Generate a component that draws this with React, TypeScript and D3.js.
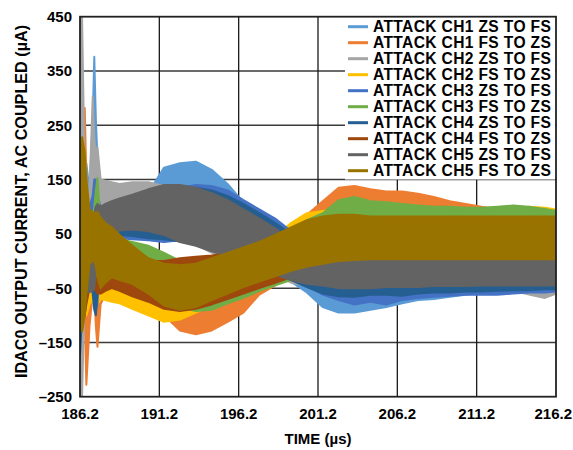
import React from "react";
import * as d3 from "d3";

// ---------- data ----------
const times = [186.2, 186.33, 186.5, 186.6, 186.8, 187.0, 187.1, 187.2, 187.3, 187.5, 187.8, 188.2, 188.7, 189.5, 190.5, 191.5, 192.5, 193.5, 194.5, 195.5, 196.5, 197.5, 198.5, 199.5, 200.5, 201.5, 202.5, 203.5, 204.5, 205.5, 206.5, 207.5, 208.5, 209.5, 210.5, 211.5, 212.5, 213.5, 214.5, 215.5, 216.2];

const xTicks = [186.2, 191.2, 196.2, 201.2, 206.2, 211.2, 216.2];
const yTicks = [450, 350, 250, 150, 50, -50, -150, -250];

const seriesNames = [
  "ATTACK CH1 ZS TO FS",
  "ATTACK CH1 FS TO ZS",
  "ATTACK CH2 ZS TO FS",
  "ATTACK CH2 FS TO ZS",
  "ATTACK CH3 ZS TO FS",
  "ATTACK CH3 FS TO ZS",
  "ATTACK CH4 ZS TO FS",
  "ATTACK CH4 FS TO ZS",
  "ATTACK CH5 ZS TO FS",
  "ATTACK CH5 FS TO ZS",
];
const seriesColors = ["#5B9BD5", "#ED7D31", "#A5A5A5", "#FFC000", "#4472C4", "#70AD47", "#255E91", "#9E480E", "#636363", "#997300"];

// envelope of each noisy trace (µA): low / high edge at each time
const ch1ZsLo = [0, -40, -30, 0, 30, 60, 80, 70, 40, 50, 55, 55, 55, 55, 60, 68, 75, 75, 65, 50, 30, 8, -15, -38, -58, -85, -95, -95, -90, -85, -78, -72, -70, -66, -62, -58, -56, -55, -52, -50, -48];
const ch1ZsHi = [60, 120, 150, 180, 130, 260, 376, 260, 190, 110, 100, 100, 100, 105, 125, 172, 180, 183, 168, 142, 108, 85, 60, 35, 15, 10, 5, 0, 0, 0, 0, 0, 0, 0, 0, 0, 0, 0, 0, 0, 0];

const ch1FsLo = [-60, -50, -100, -228, -120, -60, -60, -120, -158, -80, -60, -55, -55, -65, -80, -100, -128, -135, -128, -112, -95, -62, -45, -28, -12, 0, 5, 8, 10, 10, 10, 10, 10, 8, 8, 5, 5, 5, 5, 5, 5];
const ch1FsHi = [100, 100, 282, 150, 60, 50, 50, 30, 20, 30, 30, 20, 15, 5, -5, -15, -20, -18, -10, 0, 10, 25, 40, 60, 85, 110, 135, 138, 132, 128, 128, 124, 118, 110, 105, 100, 96, 94, 92, 90, 88];

const ch2ZsLo = [-250, -250, -50, -40, 0, 40, 50, 60, 70, 80, 80, 75, 72, 68, 62, 55, 45, 30, 15, 10, 5, -5, -25, -40, -45, -50, -55, -55, -55, -55, -55, -55, -55, -55, -55, -55, -55, -55, -62, -68, -60];
const ch2ZsHi = [450, 450, 150, 120, 130, 302, 230, 190, 210, 150, 148, 145, 142, 145, 145, 138, 125, 115, 105, 95, 85, 70, 55, 35, 25, 20, 15, 15, 15, 15, 15, 15, 15, 15, 15, 15, 15, 15, 15, 15, 15];

const ch2FsLo = [-50, -50, -80, -100, -80, -70, -75, -80, -80, -70, -72, -75, -78, -88, -100, -112, -108, -95, -82, -70, -60, -48, -35, -22, -10, -2, 3, 5, 5, 5, 5, 5, 5, 5, 5, 5, 5, 5, 5, 5, 5];
const ch2FsHi = [150, 150, 200, 120, 60, 50, 45, 40, 35, 20, 10, 0, -10, -20, -30, -35, -35, -30, -20, -10, 5, 20, 45, 70, 88, 92, 95, 92, 90, 88, 88, 88, 88, 88, 88, 88, 90, 92, 100, 98, 95];

const ch3ZsLo = [-60, -60, -100, -60, -40, -50, -80, -90, -80, 30, 40, 45, 42, 40, 38, 35, 38, 40, 35, 25, 15, 0, -15, -30, -45, -62, -72, -80, -75, -80, -72, -68, -66, -64, -62, -62, -62, -60, -58, -58, -56];
const ch3ZsHi = [150, 150, 120, 100, 100, 120, 150, 150, 120, 100, 100, 105, 105, 110, 118, 125, 135, 140, 138, 130, 112, 95, 78, 55, 35, 20, 10, 10, 10, 10, 10, 10, 10, 10, 10, 10, 10, 10, 10, 10, 10];

const ch3FsLo = [-60, -60, -80, -60, -50, -40, -40, -40, -40, -40, -35, -38, -40, -45, -60, -75, -85, -92, -90, -78, -68, -55, -45, -35, -22, -12, -5, 0, 0, 0, 0, 0, 0, 0, 0, 0, 0, 0, 0, 0, 0];
const ch3FsHi = [100, 100, 150, 100, 80, 80, 100, 130, 153, 60, 50, 42, 40, 35, 28, 15, 0, -2, 5, 12, 20, 32, 45, 60, 75, 88, 112, 118, 110, 108, 105, 102, 100, 100, 98, 98, 100, 102, 100, 96, 92];

const ch4ZsLo = [-173, -100, -80, -60, -40, -60, -90, -100, -60, 35, 45, 50, 48, 46, 42, 40, 36, 30, 30, 20, 10, -5, -20, -35, -48, -60, -65, -66, -62, -62, -64, -60, -58, -58, -56, -56, -55, -54, -54, -52, -52];
const ch4ZsHi = [100, 100, 80, 60, 60, 70, 80, 100, 100, 100, 100, 105, 105, 110, 115, 125, 130, 135, 130, 120, 105, 88, 70, 50, 30, 20, 15, 15, 15, 15, 15, 15, 15, 15, 15, 15, 15, 15, 15, 15, 15];

const ch4FsLo = [-80, -80, -100, -80, -50, -50, -50, -55, -60, -60, -55, -50, -55, -65, -75, -88, -92, -88, -80, -70, -60, -50, -40, -30, -22, -15, -12, -10, -10, -10, -10, -10, -10, -10, -10, -10, -10, -10, -10, -10, -10];
const ch4FsHi = [80, 80, 150, 100, 70, 70, 70, 70, 70, 60, 50, 40, 30, 15, 0, 0, 5, 8, 10, 15, 25, 35, 45, 55, 65, 75, 80, 80, 80, 80, 80, 80, 80, 80, 80, 80, 80, 80, 80, 80, 80];

const ch5ZsLo = [-100, -60, -60, -57, -57, -55, -50, -20, 20, 38, 45, 52, 56, 58, 55, 48, 35, 28, 18, 10, 5, -8, -25, -35, -42, -45, -50, -50, -50, -48, -48, -48, -46, -46, -46, -45, -45, -45, -45, -45, -45];
const ch5ZsHi = [100, 120, 100, 80, 60, 60, 80, 100, 105, 100, 105, 110, 115, 122, 132, 140, 140, 135, 125, 112, 95, 78, 60, 40, 25, 22, 25, 25, 25, 25, 25, 25, 25, 25, 25, 25, 25, 25, 25, 25, 25];

const ch5FsLo = [-100, -130, -100, -60, -5, 0, 0, -10, -30, -50, -40, -30, -35, -42, -60, -82, -90, -85, -72, -60, -48, -38, -28, -18, -10, -5, 0, 2, 3, 3, 3, 3, 3, 3, 3, 3, 3, 3, 3, 3, 3];
const ch5FsHi = [200, 228, 200, 150, 95, 90, 88, 90, 90, 80, 70, 62, 48, 28, 5, -5, -8, -5, 5, 15, 25, 35, 48, 62, 75, 82, 85, 85, 82, 82, 82, 82, 82, 82, 82, 82, 82, 82, 82, 82, 82];

const seriesLo = [ch1ZsLo, ch1FsLo, ch2ZsLo, ch2FsLo, ch3ZsLo, ch3FsLo, ch4ZsLo, ch4FsLo, ch5ZsLo, ch5FsLo];
const seriesHi = [ch1ZsHi, ch1FsHi, ch2ZsHi, ch2FsHi, ch3ZsHi, ch3FsHi, ch4ZsHi, ch4FsHi, ch5ZsHi, ch5FsHi];

// ---------- layout ----------
const W = 573;
const H = 450;
const PL = 80, PR = 556, PT = 16.7, PB = 396.7;
const FONT = "'Liberation Sans', Arial, sans-serif";

export default function App() {
  const x = d3.scaleLinear().domain([186.2, 216.2]).range([PL, PR]);
  const y = d3.scaleLinear().domain([-250, 450]).range([PB, PT]);

  const makeArea = (lo: number[], hi: number[]) =>
    d3
      .area<number>()
      .x((_, i) => x(times[i]))
      .y0((_, i) => y(lo[i]))
      .y1((_, i) => y(hi[i]))
      .curve(d3.curveLinear)(times);

  const legendX = 345;
  const legendY = 17;
  const rowH = 16;

  return (
    <svg width={W} height={H} style={{ position: "absolute", left: 0, top: 0, background: "#fff" }} fontFamily={FONT}>
      <defs>
        <clipPath id="plotClip">
          <rect x={PL} y={PT} width={PR - PL} height={PB - PT} />
        </clipPath>
      </defs>
      {/* grid */}
      {yTicks.slice(1, -1).map((v) => (
        <line key={"gy" + v} x1={PL} x2={PR} y1={y(v)} y2={y(v)} stroke="#3a3a3a" strokeWidth={1.5} />
      ))}
      {xTicks.slice(1, -1).map((v) => (
        <line key={"gx" + v} x1={x(v)} x2={x(v)} y1={PT} y2={PB} stroke="#1a1a1a" strokeWidth={1.3} />
      ))}
      {/* traces */}
      <g clipPath="url(#plotClip)">
        {seriesNames.map((name, i) => (
          <path
            key={name}
            d={makeArea(seriesLo[i], seriesHi[i]) || ""}
            fill={seriesColors[i]}
            stroke={seriesColors[i]}
            strokeWidth={2}
            strokeLinejoin="round"
          />
        ))}
      </g>
      {/* legend */}
      <rect x={legendX} y={legendY} width={PR - legendX - 1} height={179.5 - legendY} fill="#fff" />
      {seriesNames.map((name, i) => {
        const cy = 26.7 + i * rowH;
        return (
          <g key={"lg" + name}>
            <line x1={348} x2={368} y1={cy} y2={cy} stroke={seriesColors[i]} strokeWidth={3} />
            <text x={373} y={cy + 5.6} fontSize={15.6} letterSpacing={0.35} fontWeight="bold" fill="#000">
              {name}
            </text>
          </g>
        );
      })}
      {/* frame */}
      <rect x={PL} y={PT} width={PR - PL} height={PB - PT} fill="none" stroke="#222" strokeWidth={1.8} />
      {/* y tick labels */}
      {yTicks.map((v) => (
        <text key={"yl" + v} x={72} y={y(v)} dy="0.36em" textAnchor="end" fontSize={15} fontWeight="bold" fill="#000">
          {v < 0 ? "\u2013" + Math.abs(v) : String(v)}
        </text>
      ))}
      {/* x tick labels */}
      {xTicks.map((v, i) => {
        const last = i === xTicks.length - 1;
        return (
          <text
            key={"xl" + v}
            x={last ? W - 1 : x(v)}
            y={419}
            textAnchor={last ? "end" : "middle"}
            fontSize={15}
            fontWeight="bold"
            fill="#000"
          >
            {v.toFixed(1)}
          </text>
        );
      })}
      <text x={318} y={444} textAnchor="middle" fontSize={15} fontWeight="bold" fill="#000">
        TIME (µs)
      </text>
      <text
        transform={`translate(27, 201.5) rotate(-90)`}
        textAnchor="middle"
        fontSize={16.2}
        fontWeight="bold"
        fill="#000"
      >
        IDAC0 OUTPUT CURRENT, AC COUPLED (µA)
      </text>
    </svg>
  );
}
